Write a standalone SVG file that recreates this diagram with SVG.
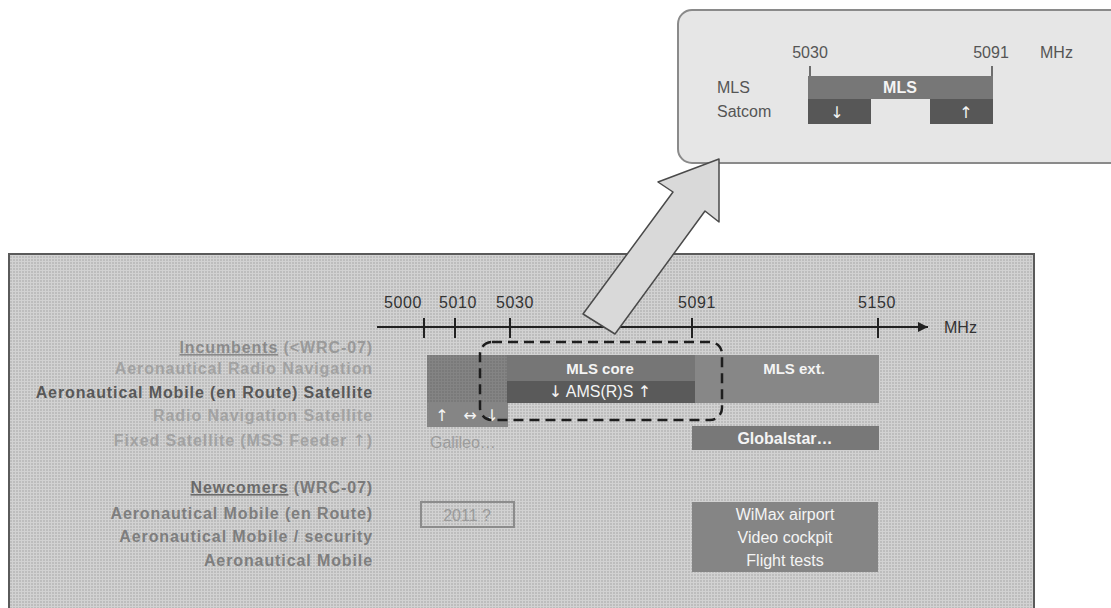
<svg xmlns="http://www.w3.org/2000/svg" width="1111" height="608" viewBox="0 0 1111 608">
<defs>
<pattern id="tex" width="3" height="3" patternUnits="userSpaceOnUse"><rect width="3" height="3" fill="#bdbdbd"/><rect width="3" height="1" fill="#d2d2d2"/><rect width="1" height="3" fill="#d2d2d2"/></pattern>
<pattern id="tex2" width="3" height="3" patternUnits="userSpaceOnUse"><rect width="3" height="3" fill="#7a7a7a"/><rect width="3" height="1" fill="#848484"/><rect width="1" height="3" fill="#848484"/></pattern>
<marker id="ah2" viewBox="0 0 10 10" refX="10" refY="5" markerWidth="12" markerHeight="10" orient="auto" markerUnits="userSpaceOnUse"><path d="M0,0 L10,5 L0,10 z" fill="#222"/></marker>
</defs>
<style>
text{font-family:"Liberation Sans",Arial,sans-serif}
.ax{font-size:16px;fill:#333;text-anchor:middle;letter-spacing:0.6px}
.lb{font-size:16px;font-weight:bold;text-anchor:end;letter-spacing:0.9px}
.lt{fill:#a2a2a2}
.wt{fill:#f4f4f4;font-weight:bold;font-size:15px;text-anchor:middle}
.ar{font-family:"DejaVu Sans",sans-serif;font-weight:normal}
.tick{stroke:#222;stroke-width:2}
.cl{font-size:15px;fill:#555}
</style>
<rect width="1111" height="608" fill="#ffffff"/>

<g id="panel">
<rect x="9" y="254" width="1025" height="370" fill="url(#tex)" stroke="#5a5a5a" stroke-width="2"/>
</g>

<g id="callout">
<rect x="678" y="10" width="460" height="153" rx="14" fill="#e6e6e6" stroke="#8a8a8a" stroke-width="2"/>
<text class="cl" x="810" y="58" text-anchor="middle" style="font-size:16px">5030</text>
<text class="cl" x="991" y="58" text-anchor="middle" style="font-size:16px">5091</text>
<text class="cl" x="1040" y="58" style="font-size:16px">MHz</text>
<line x1="810" y1="66" x2="810" y2="77" stroke="#444" stroke-width="1.5"/>
<line x1="992" y1="66" x2="992" y2="77" stroke="#444" stroke-width="1.5"/>
<text class="cl" x="717" y="93" fill="#666" style="font-size:16px">MLS</text>
<text class="cl" x="717" y="117" fill="#666" style="font-size:16px">Satcom</text>
<rect x="808" y="76" width="185" height="23" fill="#777777"/>
<text class="wt" x="900" y="93" style="font-size:16px">MLS</text>
<rect x="808" y="99" width="63" height="25" fill="#575757"/>
<rect x="930" y="99" width="63" height="25" fill="#575757"/>
<text class="wt ar" x="837" y="118" style="font-size:16px">↓</text>
<text class="wt ar" x="966" y="118" style="font-size:16px">↑</text>
</g>

<g id="axis">
<line x1="377" y1="327" x2="928" y2="327" stroke="#222" stroke-width="2" marker-end="url(#ah2)"/>
<line class="tick" x1="424" y1="318" x2="424" y2="338"/>
<line class="tick" x1="455" y1="318" x2="455" y2="338"/>
<line class="tick" x1="510" y1="318" x2="510" y2="338"/>
<line class="tick" x1="692" y1="318" x2="692" y2="338"/>
<line class="tick" x1="878" y1="318" x2="878" y2="338"/>
<text class="ax" x="403" y="308">5000</text>
<text class="ax" x="458" y="308">5010</text>
<text class="ax" x="515" y="308">5030</text>
<text class="ax" x="697" y="308">5091</text>
<text class="ax" x="877" y="308">5150</text>
<text x="944" y="333" style="font-size:16px;fill:#333">MHz</text>
</g>

<g id="labels">
<text class="lb" x="373" y="353" fill="#8a8a8a"><tspan text-decoration="underline">Incumbents</tspan><tspan fill="#9a9a9a"> (&lt;WRC-07)</tspan></text>
<text class="lb lt" x="373" y="374">Aeronautical Radio Navigation</text>
<text class="lb" x="373" y="398" fill="#585858">Aeronautical Mobile (en Route) Satellite</text>
<text class="lb lt" x="373" y="421">Radio Navigation Satellite</text>
<text class="lb lt" x="373" y="446">Fixed Satellite (MSS Feeder <tspan class="ar">↑</tspan>)</text>
<text class="lb" x="373" y="493" fill="#6a6a6a"><tspan text-decoration="underline">Newcomers</tspan><tspan fill="#7a7a7a"> (WRC-07)</tspan></text>
<text class="lb" x="373" y="519" fill="#7e7e7e">Aeronautical Mobile (en Route)</text>
<text class="lb" x="373" y="542" fill="#7e7e7e">Aeronautical Mobile / security</text>
<text class="lb" x="373" y="566" fill="#7e7e7e">Aeronautical Mobile</text>
</g>

<g id="bands">
<rect x="427" y="355" width="80" height="72" fill="url(#tex2)"/>
<rect x="427" y="402" width="81" height="25" fill="#858585"/>
<rect x="507" y="355" width="188" height="26" fill="#767676"/>
<rect x="507" y="381" width="188" height="22" fill="#5a5a5a"/>
<rect x="695" y="355" width="184" height="48" fill="#878787"/>
<text class="wt" x="600" y="374">MLS core</text>
<text class="wt" x="600" y="397" style="font-weight:normal;font-size:16px"><tspan class="ar">↓</tspan> AMS(R)S <tspan class="ar">↑</tspan></text>
<text class="wt" x="794" y="374">MLS ext.</text>
<text class="wt ar" x="442" y="421" style="font-size:16px">↑</text>
<text class="wt ar" x="470" y="421" style="font-size:16px">↔</text>
<text class="wt ar" x="492" y="421" style="font-size:16px">↓</text>
<text x="430" y="448" style="font-size:16px;fill:#9c9c9c">Galileo…</text>
</g>

<g id="globalstar">
<rect x="692" y="426" width="187" height="24" fill="#787878"/>
<text class="wt" x="785" y="444" style="font-size:16px">Globalstar…</text>
</g>

<g id="year">
<rect x="421" y="502" width="93" height="25" fill="none" stroke="#8c8c8c" stroke-width="2"/>
<text x="467" y="521" text-anchor="middle" style="font-size:16px;fill:#9a9a9a">2011 ?</text>
</g>

<g id="newuses">
<rect x="692" y="502" width="186" height="70" fill="#858585"/>
<text class="wt" x="785" y="520" style="font-weight:normal;font-size:16px">WiMax airport</text>
<text class="wt" x="785" y="543" style="font-weight:normal;font-size:16px">Video cockpit</text>
<text class="wt" x="785" y="566" style="font-weight:normal;font-size:16px">Flight tests</text>
</g>

<g id="connectors">
<rect x="480" y="342" width="242" height="78" rx="12" fill="none" stroke="#1e1e1e" stroke-width="2.5" stroke-dasharray="10,6"/>
<polygon points="583,314 673,192 658,182 719,159 719,222 705,211 615,334" fill="#d9d9d9" stroke="#4a4a4a" stroke-width="1.5" stroke-linejoin="round"/>
</g>
</svg>
